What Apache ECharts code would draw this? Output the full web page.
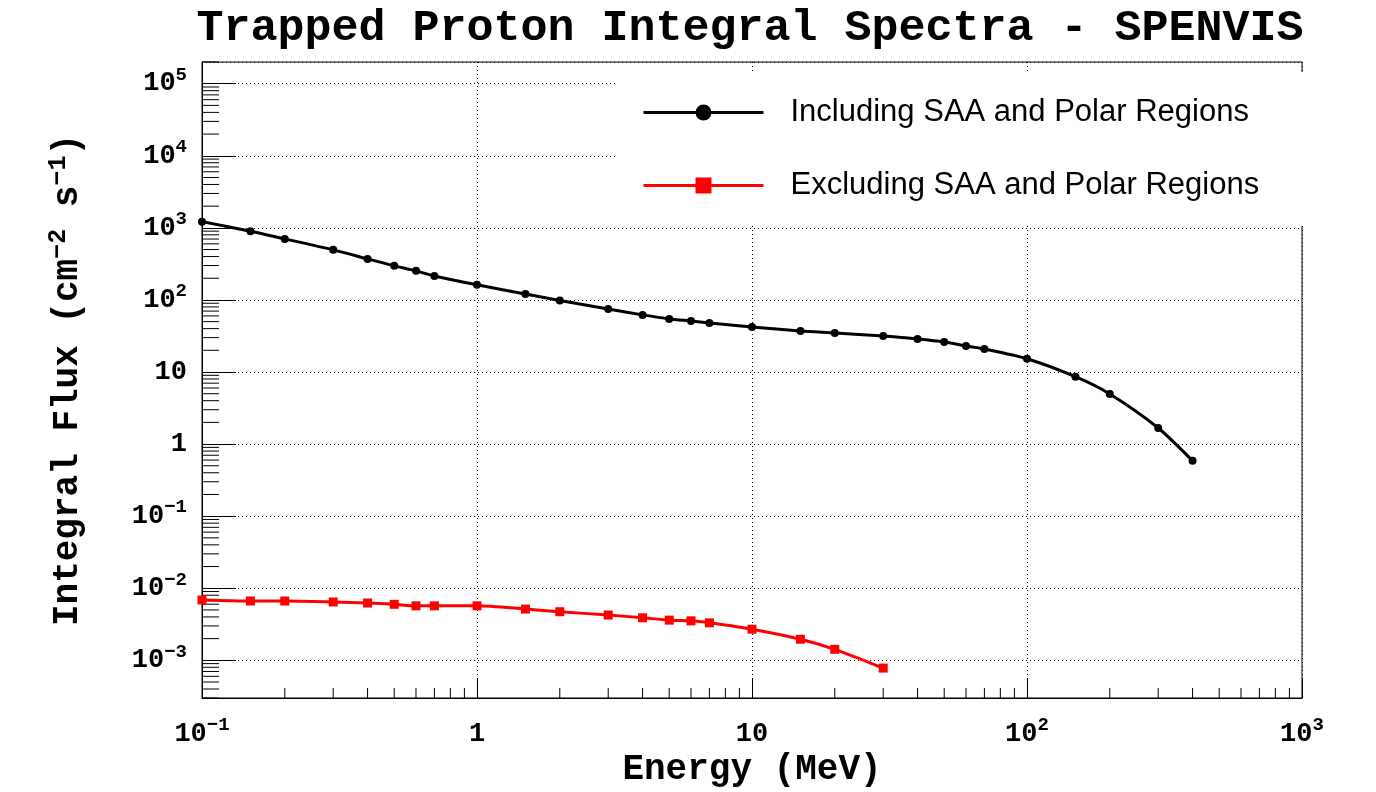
<!DOCTYPE html>
<html>
<head>
<meta charset="utf-8">
<script src="https://cdn.jsdelivr.net/npm/echarts@6/dist/echarts.min.js"></script>
<style>
html,body{margin:0;padding:0;background:#fff;}
#chart{width:1376px;height:792px;}
</style>
</head>
<body>
<div id="chart"></div>
<script>
// ---- data ----
const energyBlack = [0.1,0.15,0.2,0.3,0.4,0.5,0.6,0.7,1,1.5,2,3,4,5,6,7,10,15,20,30,40,50,60,70,100,150,200,300,400];
const fluxBlack   = [1220,897,703,495,371,297,253,215,162,121,98,75,62,54.5,51,48,42.2,37,34.8,31.6,28.7,26.1,23,20.9,15.3,8.6,4.95,1.67,0.586];
const energyRed   = [0.1,0.15,0.2,0.3,0.4,0.5,0.6,0.7,1,1.5,2,3,4,5,6,7,10,15,20,30];
const fluxRed     = [6.87e-3,6.65e-3,6.65e-3,6.45e-3,6.24e-3,5.98e-3,5.7e-3,5.7e-3,5.7e-3,5.14e-3,4.72e-3,4.25e-3,3.89e-3,3.61e-3,3.53e-3,3.31e-3,2.7e-3,1.96e-3,1.42e-3,7.8e-4];
const seriesNames = ['Including SAA and Polar Regions','Excluding SAA and Polar Regions'];
const titleText = 'Trapped Proton Integral Spectra - SPENVIS';
const xTitle = 'Energy (MeV)';
const yTitle = 'Integral Flux (cm{s|\u22122} s{s|\u22121})';
// axis ranges and minor tick positions
const xRange = [0.1, 1000];
const yRange = [3e-4, 2e5];
const minorSteps = [2,3,4,5,6,7,8,9];
const xDecades = [0.1, 1, 10, 100];
const yDecades = [1e-4,1e-3,1e-2,1e-1,1,10,100,1e3,1e4,1e5];

function minorList(decades, range){
  const out = [];
  decades.forEach(d => minorSteps.forEach(m => {
    const v = +(d*m).toPrecision(6);
    if (v >= range[0] && v <= range[1]) out.push(v);
  }));
  return out;
}
const xMinor = minorList(xDecades, xRange);
const yMinor = minorList(yDecades, yRange);

const MONO = 'Liberation Mono';
function logLabel(v){
  const e = Math.round(Math.log10(v));
  if (e === 0) return '{b|1}';
  if (e === 1) return '{b|10}';
  return '{b|10}{s|' + (e < 0 ? '\u2212' + (-e) : e) + '}';
}
const labelRich = {
  b: {fontFamily: MONO, fontWeight: 'bold', fontSize: 27, color: '#000', lineHeight: 36},
  s: {fontFamily: MONO, fontWeight: 'bold', fontSize: 19, color: '#000', lineHeight: 19, verticalAlign: 'top'}
};

const chart = echarts.init(document.getElementById('chart'), null, {renderer: 'canvas'});
const option = {
  animation: false,
  backgroundColor: '#fff',
  title: {
    text: titleText,
    left: 750, top: 6, padding: 0, textAlign: 'center',
    textStyle: {fontFamily: MONO, fontWeight: 'bold', fontSize: 45, color: '#000'}
  },
  legend: {
    orient: 'vertical',
    left: 617, top: 72,
    padding: [25, 55, 25, 25],
    backgroundColor: '#fff',
    itemWidth: 120, itemHeight: 20, itemGap: 42,
    data: seriesNames,
    lineStyle: {width: 3},
    textStyle: {fontFamily: 'Liberation Sans', fontSize: 31, color: '#000', padding: [0,0,0,22]}
  },
  grid: {
    left: 202, right: 74, top: 62, bottom: 94,
    show: true, borderColor: '#000', borderWidth: 1, backgroundColor: 'transparent',
    containLabel: false, outerBoundsMode: 'none'
  },
  xAxis: {
    type: 'log', logBase: 10, min: xRange[0], max: xRange[1], splitNumber: 4,
    name: xTitle, nameLocation: 'middle', nameGap: 52,
    nameTextStyle: {fontFamily: MONO, fontWeight: 'bold', fontSize: 36, color: '#000'},
    axisLine: {show: true, lineStyle: {color: '#000', width: 1}},
    axisTick: {show: true, inside: true, length: 19, lineStyle: {color: '#000', width: 1}},
    axisLabel: {margin: 18, showMinLabel: true, showMaxLabel: true, formatter: logLabel, rich: labelRich},
    splitLine: {show: true, lineStyle: {color: '#000', width: 1, type: [1, 3]}},
    minorTick: {show: false}
  },
  yAxis: {
    type: 'log', logBase: 10, min: yRange[0], max: yRange[1], splitNumber: 9,
    name: yTitle, nameLocation: 'middle', nameGap: 112,
    nameTextStyle: {fontFamily: MONO, fontWeight: 'bold', fontSize: 36, color: '#000', lineHeight: 44,
      rich: {s: {fontFamily: MONO, fontWeight: 'bold', fontSize: 25, color: '#000', verticalAlign: 'top', lineHeight: 25}}},
    axisLine: {show: true, lineStyle: {color: '#000', width: 1}},
    axisTick: {show: true, inside: true, length: 34, lineStyle: {color: '#000', width: 1}},
    axisLabel: {margin: 15, showMinLabel: false, showMaxLabel: false, formatter: logLabel, rich: labelRich},
    splitLine: {show: true, lineStyle: {color: '#000', width: 1, type: [1, 3]}}
  },
  series: [
    {
      name: seriesNames[0], type: 'line', smooth: 0.25,
      data: energyBlack.map((x, i) => [x, fluxBlack[i]]),
      symbol: 'circle', symbolSize: 8,
      lineStyle: {color: '#000', width: 3},
      itemStyle: {color: '#000'}, z: 3
    },
    {
      name: seriesNames[1], type: 'line', smooth: 0.25,
      data: energyRed.map((x, i) => [x, fluxRed[i]]),
      symbol: 'rect', symbolSize: 9,
      lineStyle: {color: '#ff0000', width: 3},
      itemStyle: {color: '#ff0000'}, z: 3
    },
    {
      type: 'custom', silent: true, clip: false, z: 1,
      data: yMinor.map(v => [xRange[0], v]),
      renderItem: function(params, api){
        const p = api.coord([api.value(0), api.value(1)]);
        return {type: 'line', shape: {x1: p[0], y1: p[1], x2: p[0] + 17, y2: p[1]},
                style: {stroke: '#000', lineWidth: 1}};
      }
    },
    {
      type: 'custom', silent: true, clip: false, z: 1,
      data: xMinor.map(v => [v, yRange[0]]),
      renderItem: function(params, api){
        const p = api.coord([api.value(0), api.value(1)]);
        return {type: 'line', shape: {x1: p[0], y1: p[1], x2: p[0], y2: p[1] - 10},
                style: {stroke: '#000', lineWidth: 1}};
      }
    }
  ]
};
chart.setOption(option);
</script>
</body>
</html>
